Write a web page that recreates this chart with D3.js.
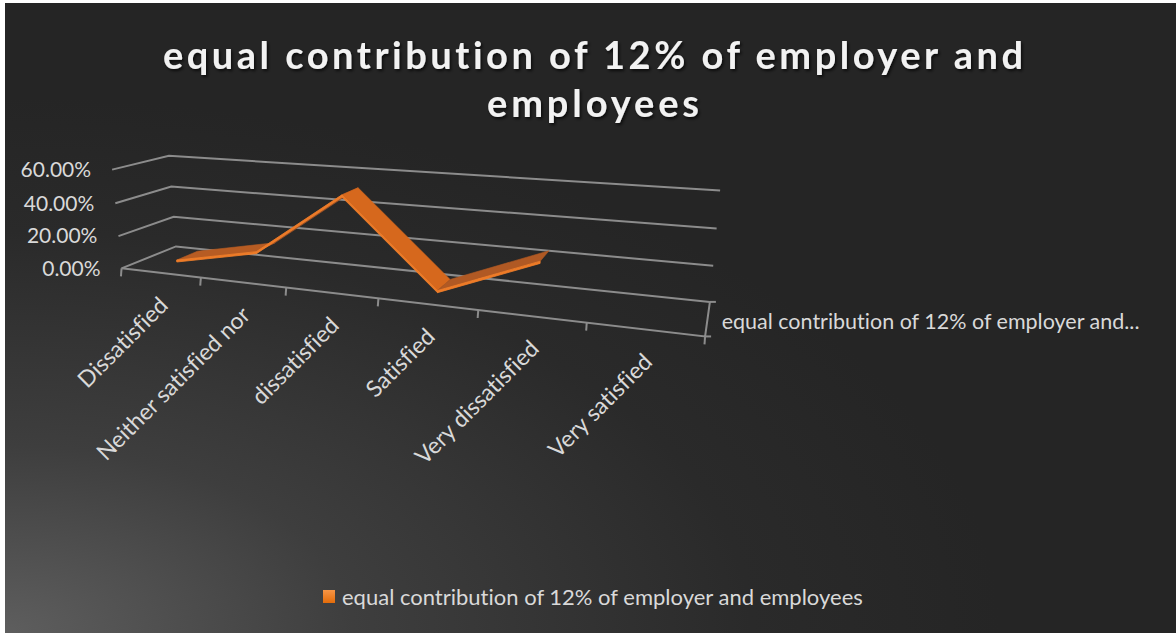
<!DOCTYPE html>
<html>
<head>
<meta charset="utf-8">
<script src="https://cdn.jsdelivr.net/npm/d3@7"></script>
<style>
  body { margin: 0; background: #fff; }
  svg { display: block; }
  text { font-family: Lato, "Open Sans", sans-serif; font-variant-ligatures: none; }
</style>
</head>
<body>
<svg id="chart" width="1176" height="633"></svg>
<script>
// data
var categories = ["Dissatisfied", "Neither satisfied nor", "dissatisfied", "Satisfied", "Very dissatisfied", "Very satisfied"];
var values = [0.035, 0.14, 0.515, 0.025, 0.245, null];
var seriesName = "equal contribution of 12% of employer and employees";
var seriesAxisLabel = "equal contribution of 12% of employer and...";
var yTicks = [0, 0.2, 0.4, 0.6];
var titleLines = ["equal contribution of 12% of employer and", "employees"];

// where the corners of the 3d plot box land on screen (x frac, value frac, depth) -> px
var calib = [
  [[0, 0, 0], [122, 268]], [[0, 1/3, 0], [117.7, 236.7]], [[0, 2/3, 0], [115, 203.3]], [[0, 1, 0], [112, 170]],
  [[0, 0, 1], [176, 247]], [[0, 1/3, 1], [173, 216.7]], [[0, 2/3, 1], [171, 186.7]], [[0, 1, 1], [170, 155]],
  [[1, 0, 1], [710, 302]], [[1, 1/3, 1], [713, 265.7]], [[1, 2/3, 1], [716.7, 228.3]], [[1, 1, 1], [720, 191]],
  [[1, 0, 0], [706, 336.5]],
  [[1/6, 0, 0], [201.7, 277.4]], [[2/6, 0, 0], [286.7, 287.4]], [[3/6, 0, 0], [378, 298.1]],
  [[4/6, 0, 0], [478, 309.8]], [[5/6, 0, 0], [586, 322.5]]
];

// least squares fit of a pinhole camera (DLT), so everything else goes through proper perspective
function fitCamera(pts) {
  var A = [], b = [];
  pts.forEach(function(p) {
    var X = p[0][0], Y = p[0][1], Z = p[0][2], x = p[1][0] / 1000, y = p[1][1] / 1000;
    A.push([X, Y, Z, 1, 0, 0, 0, 0, -x * X, -x * Y, -x * Z]); b.push(x);
    A.push([0, 0, 0, 0, X, Y, Z, 1, -y * X, -y * Y, -y * Z]); b.push(y);
  });
  var n = 11, M = [];
  for (var i = 0; i < n; i++) {
    var row = [];
    for (var j = 0; j <= n; j++) {
      var s = 0;
      for (var k = 0; k < A.length; k++) s += A[k][i] * (j < n ? A[k][j] : b[k]);
      row.push(s);
    }
    M.push(row);
  }
  for (var c = 0; c < n; c++) {
    var piv = c;
    for (var r = c + 1; r < n; r++) if (Math.abs(M[r][c]) > Math.abs(M[piv][c])) piv = r;
    var tmp = M[c]; M[c] = M[piv]; M[piv] = tmp;
    for (r = 0; r < n; r++) {
      if (r === c) continue;
      var f = M[r][c] / M[c][c];
      for (j = c; j <= n; j++) M[r][j] -= f * M[c][j];
    }
  }
  return M.map(function(row, i) { return row[n] / row[i]; });
}

var cam = fitCamera(calib);
function proj(X, Y, Z) {
  var w = cam[8] * X + cam[9] * Y + cam[10] * Z + 1;
  return [1000 * (cam[0] * X + cam[1] * Y + cam[2] * Z + cam[3]) / w,
          1000 * (cam[4] * X + cam[5] * Y + cam[6] * Z + cam[7]) / w];
}

var xScale = d3.scaleLinear().domain([0, categories.length]).range([0, 1]);
var yScale = d3.scaleLinear().domain([0, 0.6]).range([0, 1]);
var P = (c, v, z) => proj(xScale(c), yScale(v), z);
var line = d3.line();

var svg = d3.select('#chart');
var defs = svg.append('defs');

var bg = defs.append('radialGradient').attr('id', 'bg')
  .attr('cx', 0).attr('cy', 1).attr('r', 0.85).attr('fx', 0).attr('fy', 1);
bg.append('stop').attr('offset', 0).attr('stop-color', '#5e5e5e');
bg.append('stop').attr('offset', 0.35).attr('stop-color', '#3e3e3e');
bg.append('stop').attr('offset', 0.75).attr('stop-color', '#2a2a2a');
bg.append('stop').attr('offset', 1).attr('stop-color', '#252525');

var lg = defs.append('linearGradient').attr('id', 'legendSwatch').attr('x1', 0).attr('y1', 0).attr('x2', 0).attr('y2', 1);
lg.append('stop').attr('offset', 0).attr('stop-color', '#f79646');
lg.append('stop').attr('offset', 1).attr('stop-color', '#e46c0a');

var shadow = defs.append('filter').attr('id', 'shadow').attr('x', -0.1).attr('y', -0.3).attr('width', 1.2).attr('height', 1.6);
shadow.append('feDropShadow').attr('dx', 1.5).attr('dy', 2).attr('stdDeviation', 1.5)
  .attr('flood-color', '#000').attr('flood-opacity', 0.7);

svg.append('rect').attr('x', 5).attr('y', 3).attr('width', 1171).attr('height', 630).attr('fill', 'url(#bg)');

// title
svg.append('g').attr('filter', 'url(#shadow)')
  .selectAll('text').data(titleLines).enter().append('text')
  .attr('x', 593).attr('y', (d, i) => 69 + i * 48)
  .attr('text-anchor', 'middle')
  .attr('textLength', (d, i) => i === 0 ? 860 : 212)
  .attr('lengthAdjust', 'spacing')
  .attr('fill', '#f2f2f2').attr('font-size', 38).attr('font-weight', 'bold')
  .text(d => d);

var grid = svg.append('g').attr('fill', 'none').attr('stroke', '#8c8c8c').attr('stroke-width', 2);
var n = categories.length;

// back wall + left wall gridlines
grid.selectAll('path.back').data(yTicks).enter().append('path')
  .attr('class', 'back')
  .attr('d', t => line([P(0, t, 0), P(0, t, 1), P(n, t, 1)]));

// floor front edge (category axis) and the depth axis at the right
var axis = svg.append('g').attr('fill', 'none').attr('stroke', '#8c8c8c').attr('stroke-width', 2);
axis.append('path').attr('d', line([P(0, 0, 0), P(n, 0, 0), P(n, 0, 1)]));
axis.selectAll('path.tick').data(d3.range(n + 1)).enter().append('path')
  .attr('class', 'tick')
  .attr('d', function(i) { var p = P(i, 0, 0); return line([p, [p[0] - 0.6, p[1] + 8]]); });
axis.selectAll('path.ztick').data([0, 1]).enter().append('path')
  .attr('class', 'ztick')
  .attr('d', function(z) { var p = P(n, 0, z); return line([p, [p[0] + 6, p[1]]]); });

// y labels
svg.append('g').selectAll('text').data(yTicks).enter().append('text')
  .attr('x', t => P(0, t, 0)[0] - 21)
  .attr('y', t => P(0, t, 0)[1])
  .attr('dy', '0.35em')
  .attr('text-anchor', 'end')
  .attr('fill', '#d9d9d9').attr('font-size', 21)
  .text(t => d3.format('.2%')(t));

// category labels
svg.append('g').selectAll('text').data(categories).enter().append('text')
  .attr('transform', function(d, i) {
    var p = P(i + 0.5, 0, 0);
    return 'translate(' + (p[0] + 9) + ',' + (p[1] + 34) + ') rotate(-45)';
  })
  .attr('text-anchor', 'end')
  .attr('fill', '#d9d9d9').attr('font-size', 23)
  .text(d => d);

// series (depth) axis label
var sp = P(n, 0, 0.5);
svg.append('text')
  .attr('x', sp[0] + 14).attr('y', sp[1] + 3).attr('dy', '0.35em')
  .attr('fill', '#d9d9d9').attr('font-size', 21.5)
  .text(seriesAxisLabel);

// the 3d ribbon
var z1 = 0.3, z2 = 0.7, thick = 0.012;
var pts = values.map((v, i) => ({ c: i + 0.5, v: v })).filter(d => d.v != null);
var segs = d3.pairs(pts);
var shade = d3.interpolateRgb('#a65526', '#d9691c');

var ribbon = svg.append('g');
segs.forEach(function(s) {
  var a = s[0], b = s[1];
  var slope = (yScale(b.v) - yScale(a.v)) / (xScale(b.c) - xScale(a.c)) * 0.35;
  var nx = -slope / Math.sqrt(1 + slope * slope);
  ribbon.append('path')
    .attr('d', line([P(a.c, a.v, z1), P(b.c, b.v, z1), P(b.c, b.v, z2), P(a.c, a.v, z2)]) + 'Z')
    .attr('fill', shade((nx + 1) / 2))
    .attr('stroke', shade((nx + 1) / 2)).attr('stroke-width', 0.6);
  ribbon.append('path')
    .attr('d', line([P(a.c, a.v, z1), P(b.c, b.v, z1), P(b.c, b.v - thick, z1), P(a.c, a.v - thick, z1)]) + 'Z')
    .attr('fill', '#ef7a26').attr('stroke', '#f0802c').attr('stroke-width', 0.8);
});

// legend
svg.append('rect').attr('x', 323).attr('y', 590).attr('width', 12).attr('height', 13).attr('fill', 'url(#legendSwatch)');
svg.append('text').attr('x', 342).attr('y', 597).attr('dy', '0.35em')
  .attr('fill', '#d9d9d9').attr('font-size', 22)
  .text(seriesName);
</script>
</body>
</html>
